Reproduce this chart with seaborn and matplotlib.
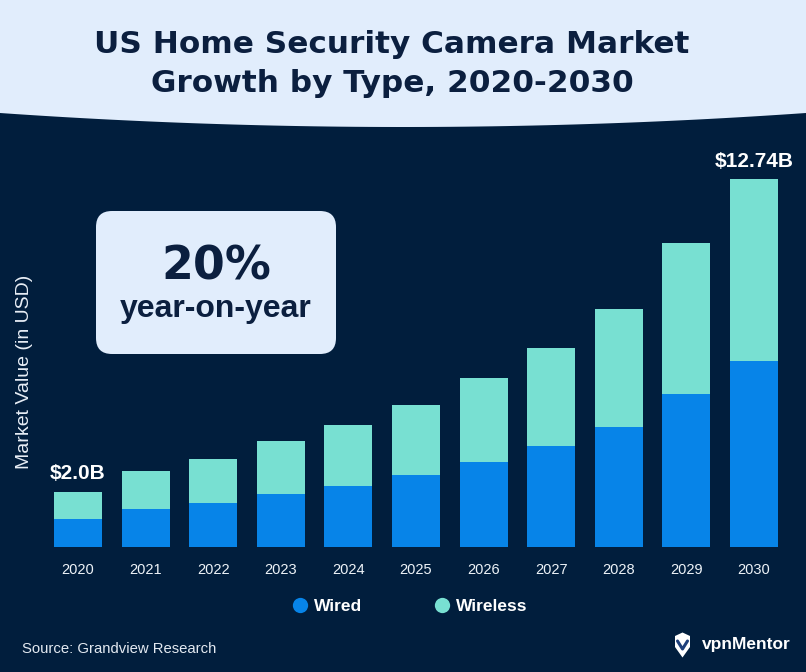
import numpy as np
import pandas as pd
import seaborn as sns
from matplotlib import pyplot as plt
from matplotlib.patches import Polygon, FancyBboxPatch
from matplotlib.lines import Line2D
from matplotlib.transforms import Affine2D

# data (billions USD)
years = ["2020", "2021", "2022", "2023", "2024", "2025", "2026", "2027", "2028", "2029", "2030"]
wired = [0.98, 1.32, 1.53, 1.84, 2.12, 2.50, 2.95, 3.49, 4.16, 5.31, 6.43]
wireless = [0.95, 1.31, 1.51, 1.83, 2.11, 2.42, 2.90, 3.41, 4.09, 5.23, 6.31]
value_labels = {"2020": "$2.0B", "2030": "$12.74B"}
series_names = ["Wired", "Wireless"]

NAVY = "#011e3d"
LIGHT = "#e1edfc"
DARK_TEXT = "#0b1f3f"
BLUE = "#0784e8"
TEAL = "#78e0d2"

sns.set_style("dark", {"axes.facecolor": NAVY, "figure.facecolor": NAVY})
plt.rcParams["font.family"] = ["Liberation Sans", "DejaVu Sans"]

df = pd.DataFrame({"year": years, "Wired": wired, "Wireless": wireless})
df["total"] = df["Wired"] + df["Wireless"]

W, H = 806, 672
fig = plt.figure(figsize=(W / 100, H / 100), dpi=100, facecolor=NAVY)
# pixel coords, origin top-left
px = Affine2D().scale(1 / W, -1 / H).translate(0, 1) + fig.transFigure

# light header with curved bottom edge
xs = np.linspace(0, W, 60)
curve = 113 + 14 * (1 - ((xs - W / 2) / (W / 2)) ** 2)
hdr = [(0, 0), (W, 0)] + list(zip(xs[::-1], curve[::-1]))
fig.patches.append(Polygon(hdr, closed=True, facecolor=LIGHT, edgecolor="none", transform=px, zorder=0))

fig.text(392, 53, "US Home Security Camera Market", transform=px, ha="center", va="baseline",
         fontsize=22.4, weight="bold", color=DARK_TEXT, family="DejaVu Sans")
fig.text(392, 92, "Growth by Type, 2020-2030", transform=px, ha="center", va="baseline",
         fontsize=22.4, weight="bold", color=DARK_TEXT, family="DejaVu Sans")

ax = fig.add_axes([44.2 / W, (H - 547.3) / H, 743.6 / W, 407.3 / H])
ax.set_facecolor(NAVY)

sns.barplot(data=df, x="year", y="total", color=TEAL, saturation=1, width=0.71,
            errorbar=None, ax=ax, linewidth=0)
sns.barplot(data=df, x="year", y="Wired", color=BLUE, saturation=1, width=0.71,
            errorbar=None, ax=ax, linewidth=0)

ax.set_xlim(-0.5, len(years) - 0.5)
ax.set_ylim(0, 14.09)
ax.set_xlabel("")
ax.set_ylabel("")
ax.set_yticks([])
ax.tick_params(axis="x", length=0, pad=11, labelsize=10.5, labelcolor="#eef3f8")
for s in ax.spines.values():
    s.set_visible(False)
ax.grid(False)

for i, yr in enumerate(years):
    if yr in value_labels:
        ax.annotate(value_labels[yr], (i, df["total"][i]), xytext=(0, 6), textcoords="offset points",
                    ha="center", va="bottom", fontsize=15, weight="bold", color="white",
                    annotation_clip=False)

fig.text(25, 371.5, "Market Value (in USD)", transform=px, rotation=90, ha="center", va="center",
         fontsize=14, color="#e8eef6")

# callout box
fig.patches.append(FancyBboxPatch((96, 211), 240, 143, boxstyle="round,pad=0,rounding_size=16",
                                  facecolor=LIGHT, edgecolor="none", transform=px, zorder=1))
fig.text(216, 279, "20%", transform=px, ha="center", va="baseline", fontsize=33,
         weight="bold", color=DARK_TEXT, zorder=2, family="DejaVu Sans")
fig.text(216, 316.7, "year-on-year", transform=px, ha="center", va="baseline", fontsize=23,
         weight="bold", color=DARK_TEXT, zorder=2)

handles = [Line2D([], [], marker="o", linestyle="none", markersize=11, markerfacecolor=c,
                  markeredgecolor="none", label=n) for c, n in zip([BLUE, TEAL], series_names)]
fig.legend(handles=handles, loc="center", bbox_to_anchor=(410, 606), bbox_transform=px, ncol=2,
           frameon=False, prop={"weight": "bold", "size": 12.5}, labelcolor="white",
           handlelength=0.8, handletextpad=0.4, columnspacing=4.2)

fig.text(22, 653, "Source: Grandview Research", transform=px, ha="left", va="baseline",
         fontsize=10.7, color="#e3e9f1")

# logo
shield = [(675, 636), (682.5, 632.5), (690, 636), (690, 647), (682.5, 657.5), (675, 647)]
fig.patches.append(Polygon(shield, closed=True, facecolor="white", edgecolor="none", transform=px))
fig.lines.append(Line2D([677.5, 682.5, 687.5], [641, 649, 641], color="#1d3f7a", linewidth=2.2,
                        transform=px))
fig.text(702, 645, "vpnMentor", transform=px, ha="left", va="center", fontsize=12.5,
         weight="bold", color="white")

fig.savefig("out.png", dpi=100, facecolor=NAVY)
